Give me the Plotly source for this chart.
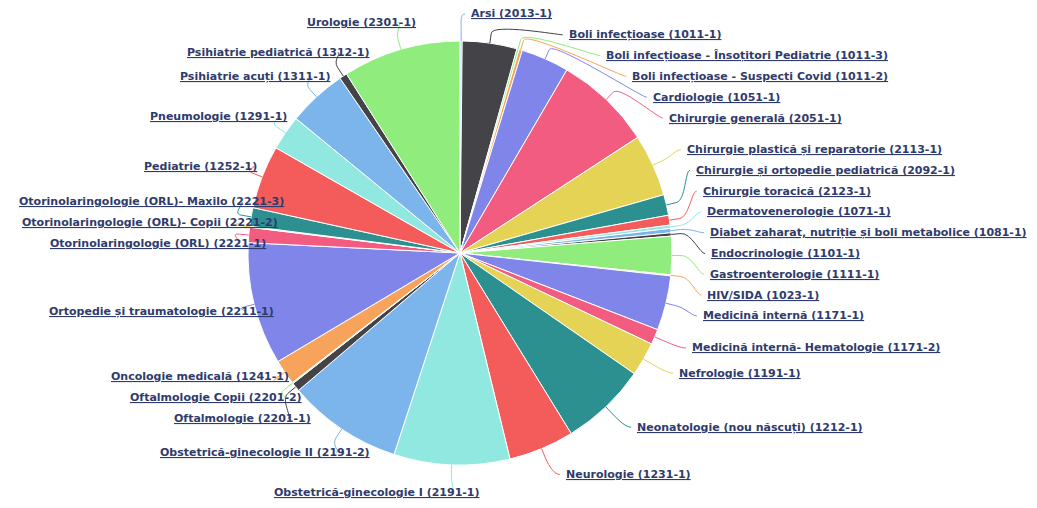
import math
import plotly.graph_objects as go

# Hospital departments (code in brackets) and their counts
departments = [
    "Arsi (2013-1)",
    "Boli infecțioase (1011-1)",
    "Boli infecțioase - Însoțitori Pediatrie (1011-3)",
    "Boli infecțioase - Suspecti Covid (1011-2)",
    "Cardiologie (1051-1)",
    "Chirurgie generală (2051-1)",
    "Chirurgie plastică și reparatorie (2113-1)",
    "Chirurgie și ortopedie pediatrică (2092-1)",
    "Chirurgie toracică (2123-1)",
    "Dermatovenerologie (1071-1)",
    "Diabet zaharat, nutriție și boli metabolice (1081-1)",
    "Endocrinologie (1101-1)",
    "Gastroenterologie (1111-1)",
    "HIV/SIDA (1023-1)",
    "Medicină internă (1171-1)",
    "Medicină internă- Hematologie (1171-2)",
    "Nefrologie (1191-1)",
    "Neonatologie (nou născuți) (1212-1)",
    "Neurologie (1231-1)",
    "Obstetrică-ginecologie I (2191-1)",
    "Obstetrică-ginecologie II (2191-2)",
    "Oftalmologie (2201-1)",
    "Oftalmologie Copii (2201-2)",
    "Oncologie medicală (1241-1)",
    "Ortopedie și traumatologie (2211-1)",
    "Otorinolaringologie (ORL) (2221-1)",
    "Otorinolaringologie (ORL)- Copii (2221-2)",
    "Otorinolaringologie (ORL)- Maxilo (2221-3)",
    "Pediatrie (1252-1)",
    "Pneumologie (1291-1)",
    "Psihiatrie acuți (1311-1)",
    "Psihiatrie pediatrică (1312-1)",
    "Urologie (2301-1)",
]

patients = [
    2, 50, 2, 3, 44, 89, 57, 19, 9, 3, 4, 3, 35, 1, 50, 14, 31,
    79, 60, 106, 105, 8, 1, 23, 112, 14, 1, 17, 58, 32, 54, 7, 108,
]

palette = ["#7cb5ec", "#434348", "#90ed7d", "#f7a35c", "#8085e9",
           "#f15c80", "#e4d354", "#2b908f", "#f45b5b", "#91e8e1"]

# Canvas and pie geometry (pixels)
W, H = 1037, 508
CX, CY, R = 460, 253, 212
LABEL_COLOR = "#2f3b6b"

colors = [palette[i % len(palette)] for i in range(len(departments))]


def px(x):
    return x / W


def py(y):
    return 1 - y / H


fig = go.Figure(go.Pie(
    labels=departments,
    values=patients,
    sort=False,
    direction="clockwise",
    rotation=0,
    marker=dict(colors=colors, line=dict(color="white", width=1)),
    textinfo="none",
    hoverinfo="label+value",
    domain=dict(x=[px(CX - R), px(CX + R)], y=[py(CY + R), py(CY - R)]),
))

# ---- data-label placement around the pie ----
SLOT_CY, SLOT_R = 250, 240   # circle giving each label's natural height
COL_CY, COL_R = 251, 240     # circle the label column follows
PAD = 5
STEP = 20.8                  # vertical spacing between stacked labels
CHAR_W = 6.3                 # rough text width per character

total = sum(patients)
mids = []
acc = 0
for v in patients:
    mids.append(360.0 * (acc + v / 2) / total)
    acc += v


def distribute(items, lo, hi):
    items = sorted(items, key=lambda t: t[1])
    groups = [[it] for it in items]

    def start(g):
        n = len(g)
        s = sum(t for _, t in g) / n - (n - 1) * STEP / 2
        return min(max(s, lo), hi - (n - 1) * STEP)

    changed = True
    while changed:
        changed = False
        for k in range(len(groups) - 1):
            if start(groups[k]) + len(groups[k]) * STEP > start(groups[k + 1]):
                groups[k] = groups[k] + groups.pop(k + 1)
                changed = True
                break
    pos = {}
    for g in groups:
        s = start(g)
        for j, (idx, _) in enumerate(g):
            pos[idx] = s + j * STEP
    return pos


right, left = [], []
for i, a in enumerate(mids):
    target = SLOT_CY - SLOT_R * math.cos(math.radians(a))
    (right if a < 180 else left).append((i, target))

slots = {}
slots.update(distribute(right, 11, H - 11))
slots.update(distribute(left, 11, H - 11))


def column_offset(y):
    s = max(-1.0, min(1.0, (y - COL_CY) / COL_R))
    return math.cos(math.asin(s)) * COL_R + PAD


annotations = []
shapes = []
for i, name in enumerate(departments):
    a = math.radians(mids[i])
    y = slots[i]
    ly = y + 3
    is_right = mids[i] < 180
    tx, ty = CX + R * math.sin(a), CY - R * math.cos(a)
    bx, by = CX + (R + 10) * math.sin(a), CY - (R + 10) * math.cos(a)
    if is_right:
        ax = CX + column_offset(y)
        annotations.append(dict(
            x=px(ax + 4), y=py(ly), xref="paper", yref="paper",
            xanchor="left", yanchor="middle", text=name, showarrow=False,
        ))
        end_x = ax
        c1x = end_x - 5
    else:
        ax = CX - column_offset(y)
        text_right = ax + 0.245 * CHAR_W * len(name)
        annotations.append(dict(
            x=px(text_right), y=py(ly), xref="paper", yref="paper",
            xanchor="right", yanchor="middle", text=name, showarrow=False,
        ))
        end_x = min(text_right + 2, bx)
        c1x = end_x + 5

    path = (f"M {px(end_x):.5f},{py(ly):.5f} "
            f"C {px(c1x):.5f},{py(ly):.5f} {px(2 * bx - tx):.5f},{py(2 * by - ty):.5f} "
            f"{px(bx):.5f},{py(by):.5f} L {px(tx):.5f},{py(ty):.5f}")
    shapes.append(dict(type="path", path=path, xref="paper", yref="paper",
                       line=dict(color=colors[i], width=1), layer="above"))

label_font = dict(family="DejaVu Sans", size=11, color=LABEL_COLOR,
                  weight="bold", lineposition="under")

fig.update_layout(
    width=W, height=H, autosize=False,
    margin=dict(l=0, r=0, t=0, b=0),
    paper_bgcolor="white", plot_bgcolor="white",
    showlegend=False,
    annotations=annotations,
    shapes=shapes,
    font=label_font,
)
fig.update_annotations(font=label_font)

fig.write_html("out.html")
